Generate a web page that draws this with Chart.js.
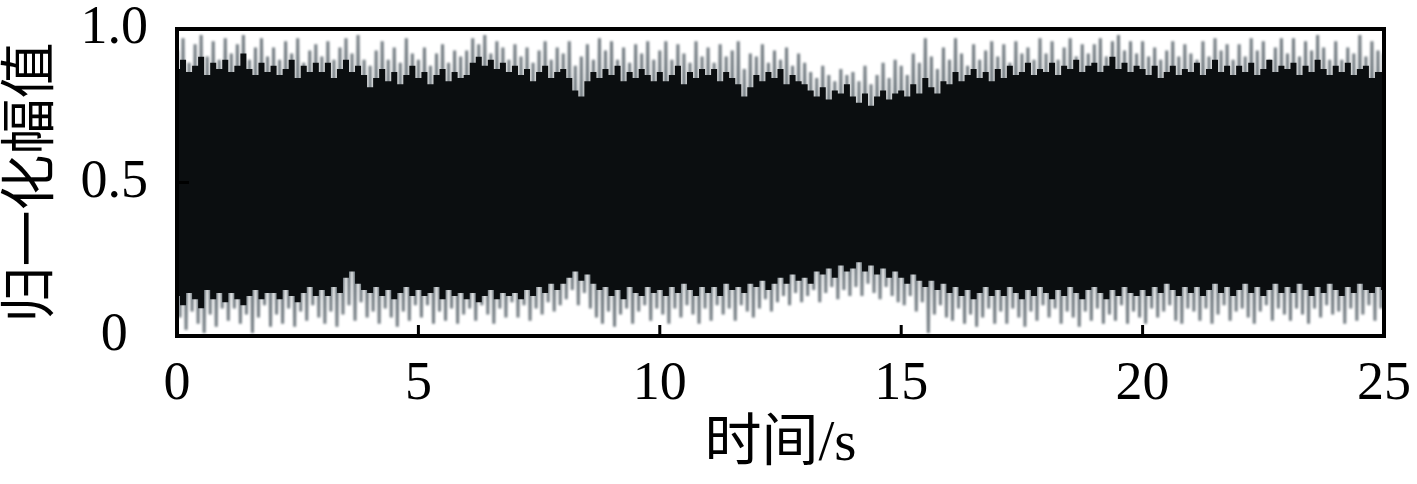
<!DOCTYPE html>
<html>
<head>
<meta charset="utf-8">
<script src="https://cdn.jsdelivr.net/npm/chart.js@4.4.1/dist/chart.umd.min.js"></script>
<style>
  html, body { margin: 0; padding: 0; background: #fff; }
  #wrap { width: 1417px; height: 484px; }
</style>
</head>
<body>
<div id="wrap"><canvas id="sig" width="1417" height="484"></canvas></div>
<script>
// 时间轴刻度
const xTicks = [0, 5, 10, 15, 20, 25];
const yTicks = [0, 0.5, 1.0];

// 采样间隔 (s), 所有包络都按此间隔从图上估读
const step = 0.125;

// 尖峰顶端
const peakHi = [
  .93,.97,.89,.95,.98,.91,.96,.90, .97,.92,.95,.98,.90,.94,.97,.91,
  .94,.90,.96,.92,.97,.89,.93,.95, .91,.96,.90,.94,.97,.92,.98,.90,
  .88,.93,.96,.90,.94,.89,.97,.92, .90,.94,.88,.92,.95,.89,.93,.91,
  .93,.97,.95,.98,.92,.96,.94,.90, .95,.91,.94,.89,.93,.96,.90,.94,
  .92,.96,.88,.91,.95,.90,.97,.93, .96,.90,.94,.89,.95,.92,.96,.90,
  .93,.96,.90,.95,.92,.89,.96,.91, .94,.89,.95,.91,.93,.96,.87,.92,
  .91,.95,.89,.93,.90,.94,.88,.92, .89,.86,.84,.88,.85,.83,.87,.85,
  .86,.83,.88,.82,.85,.89,.84,.90, .88,.85,.92,.89,.97,.91,.87,.94,
  .90,.97,.92,.88,.95,.90,.93,.96, .91,.95,.89,.96,.92,.94,.90,.97,
  .92,.96,.90,.94,.97,.91,.95,.92, .95,.97,.91,.96,.98,.93,.96,.92,
  .96,.91,.94,.90,.93,.96,.91,.95, .92,.90,.96,.91,.97,.93,.95,.90,
  .95,.91,.97,.93,.96,.90,.94,.97, .92,.97,.91,.96,.93,.98,.94,.90,
  .96,.90,.94,.92,.98,.91,.96,.93, .92
];
// 尖峰底端
const peakLo = [
  .06,.02,.08,.04,.01,.07,.03,.09, .05,.09,.04,.07,.01,.06,.10,.03,
  .07,.04,.09,.03,.08,.05,.10,.06, .04,.08,.03,.07,.10,.05,.11,.06,
  .08,.04,.09,.06,.03,.08,.05,.10, .06,.10,.04,.08,.05,.09,.04,.07,
  .09,.05,.10,.07,.04,.09,.06,.11, .06,.10,.05,.09,.07,.11,.08,.10,
  .12,.15,.10,.14,.09,.06,.04,.08, .03,.07,.09,.04,.08,.10,.05,.09,
  .07,.04,.09,.06,.10,.07,.04,.09, .05,.10,.07,.09,.05,.10,.08,.06,
  .09,.12,.08,.11,.13,.10,.14,.11, .13,.15,.11,.14,.16,.12,.15,.13,
  .16,.13,.17,.14,.12,.16,.13,.11, .10,.13,.08,.11,.01,.07,.10,.06,
  .05,.09,.04,.07,.03,.06,.09,.04, .08,.04,.09,.06,.03,.08,.05,.10,
  .06,.09,.04,.08,.06,.03,.08,.05, .09,.04,.07,.05,.10,.04,.08,.06,
  .04,.09,.06,.08,.10,.05,.04,.09, .08,.05,.09,.04,.07,.10,.05,.08,
  .09,.06,.04,.08,.10,.05,.09,.07, .05,.09,.07,.04,.09,.06,.10,.07,
  .08,.04,.09,.05,.07,.10,.05,.09, .07
];
// 实心部分上沿
const coreHi = [
  .87,.90,.86,.88,.91,.85,.89,.87, .90,.86,.88,.92,.87,.85,.89,.86,
  .88,.85,.87,.90,.84,.88,.86,.89, .86,.89,.84,.87,.90,.86,.88,.85,
  .81,.84,.87,.83,.86,.82,.85,.88, .84,.86,.82,.85,.87,.83,.86,.84,
  .85,.89,.91,.88,.90,.87,.89,.86, .88,.85,.87,.83,.86,.88,.84,.86,
  .87,.84,.80,.78,.83,.86,.84,.87, .85,.88,.83,.86,.84,.87,.85,.83,
  .86,.83,.85,.88,.82,.86,.84,.87, .85,.87,.83,.86,.84,.82,.78,.81,
  .85,.83,.86,.84,.87,.82,.85,.83, .82,.80,.78,.81,.77,.80,.79,.82,
  .78,.76,.79,.75,.78,.80,.77,.79, .80,.78,.82,.79,.84,.81,.79,.83,
  .82,.86,.83,.85,.87,.84,.86,.83, .87,.84,.88,.85,.86,.89,.85,.87,
  .86,.89,.85,.88,.87,.90,.86,.88, .89,.86,.88,.91,.87,.89,.86,.88,
  .87,.85,.88,.84,.86,.88,.85,.87, .86,.89,.85,.87,.90,.86,.88,.85,
  .88,.86,.89,.85,.87,.90,.86,.88, .87,.89,.85,.88,.86,.90,.87,.85,
  .88,.86,.89,.85,.87,.88,.84,.86, .86
];
// 实心部分下沿
const coreLo = [
  .13,.10,.14,.12,.09,.15,.12,.14, .11,.14,.12,.10,.13,.15,.12,.14,
  .14,.12,.15,.13,.11,.14,.16,.13, .15,.13,.16,.14,.19,.21,.17,.15,
  .14,.16,.13,.15,.12,.14,.16,.13, .15,.13,.14,.16,.12,.15,.13,.14,
  .12,.14,.11,.13,.15,.12,.14,.13, .14,.12,.15,.13,.16,.14,.17,.15,
  .17,.19,.21,.18,.20,.17,.15,.16, .13,.15,.12,.16,.14,.13,.16,.14,
  .15,.13,.16,.14,.17,.15,.13,.16, .14,.16,.13,.17,.15,.16,.14,.17,
  .16,.18,.15,.17,.19,.17,.20,.18, .19,.17,.21,.20,.22,.19,.23,.21,
  .22,.24,.21,.23,.20,.22,.19,.21, .19,.17,.20,.18,.16,.18,.15,.17,
  .14,.16,.13,.15,.12,.14,.16,.13, .15,.13,.16,.14,.12,.15,.13,.16,
  .14,.12,.15,.13,.16,.14,.12,.15, .16,.14,.12,.15,.13,.16,.14,.13,
  .15,.13,.16,.14,.17,.15,.13,.16, .14,.16,.13,.15,.17,.14,.16,.13,
  .15,.17,.14,.16,.13,.15,.17,.14, .16,.14,.17,.15,.13,.16,.14,.17,
  .15,.13,.16,.14,.17,.15,.14,.16, .15
];

// 信号: 上下尖峰交替
const spikePts = [];
peakHi.forEach((v, i) => {
  spikePts.push({ x: i * step, y: v });
  spikePts.push({ x: i * step + step / 2, y: peakLo[i] });
});
const hiPts = coreHi.map((v, i) => ({ x: i * step, y: v }));
const loPts = coreLo.map((v, i) => ({ x: i * step, y: v }));

const serif = "'Liberation Serif', 'Times New Roman', serif";
const cjk = "'Liberation Serif', 'Noto Sans CJK SC', serif";

// 尖峰稍微模糊一点, 像原图那样
const softSpikes = {
  id: 'softSpikes',
  beforeDatasetDraw(chart, args) {
    if (args.index === 2) { chart.ctx.save(); chart.ctx.filter = 'blur(0.8px)'; }
  },
  afterDatasetDraw(chart, args) {
    if (args.index === 2) chart.ctx.restore();
  }
};

// 边框 + 向内的刻度线
const frame = {
  id: 'frame',
  afterDraw(chart) {
    const { ctx, chartArea: a, scales } = chart;
    ctx.save();
    ctx.strokeStyle = '#000';
    ctx.lineWidth = 3;
    xTicks.slice(1, -1).forEach(t => {
      const px = scales.x.getPixelForValue(t);
      ctx.beginPath(); ctx.moveTo(px, a.bottom); ctx.lineTo(px, a.bottom - 11); ctx.stroke();
    });
    yTicks.slice(1, -1).forEach(t => {
      const py = scales.y.getPixelForValue(t);
      ctx.beginPath(); ctx.moveTo(a.left, py); ctx.lineTo(a.left + 12, py); ctx.stroke();
    });
    ctx.lineWidth = 4;
    ctx.strokeRect(a.left, a.top, a.right - a.left, a.bottom - a.top);
    ctx.restore();
  }
};

new Chart(document.getElementById('sig'), {
  type: 'line',
  data: {
    datasets: [
      { data: hiPts, stepped: 'middle', borderWidth: 0, borderColor: '#0b0e10', backgroundColor: '#0b0e10', fill: '+1', pointRadius: 0, order: 1 },
      { data: loPts, stepped: 'middle', borderWidth: 0, borderColor: '#0b0e10', pointRadius: 0, fill: false, order: 1 },
      { data: spikePts, borderWidth: 3, borderColor: 'rgba(22,36,46,0.6)', pointRadius: 0, fill: false, order: 2 }
    ]
  },
  options: {
    responsive: false,
    animation: false,
    devicePixelRatio: 1,
    layout: { padding: { top: 29, right: 33, left: 0, bottom: 0 } },
    plugins: { legend: { display: false }, tooltip: { enabled: false } },
    scales: {
      x: {
        type: 'linear', min: 0, max: 25,
        afterBuildTicks: s => { s.ticks = xTicks.map(v => ({ value: v })); },
        afterFit: s => { s.height = 148; s.paddingLeft = 0; s.paddingRight = 0; },
        grid: { display: false, drawTicks: false },
        border: { display: false },
        ticks: { color: '#000', padding: 22, maxRotation: 0, font: { family: serif, size: 54, lineHeight: 1 } },
        title: { display: true, text: '时间/s', color: '#000', padding: { top: 0, bottom: 5 }, font: { family: cjk, size: 57 } }
      },
      y: {
        min: 0, max: 1,
        afterBuildTicks: s => { s.ticks = yTicks.map(v => ({ value: v })); },
        afterFit: s => { s.width = 177; s.paddingTop = 0; s.paddingBottom = 0; },
        grid: { display: false, drawTicks: false },
        border: { display: false },
        ticks: {
          color: '#000', padding: 29, crossAlign: 'center',
          font: { family: serif, size: 54, lineHeight: 1 },
          callback: v => v === 0 ? '0' : v.toFixed(1)
        },
        title: { display: true, text: '归一化幅值', color: '#000', padding: 0, font: { family: cjk, size: 56 } }
      }
    }
  },
  plugins: [softSpikes, frame]
});
</script>
</body>
</html>
